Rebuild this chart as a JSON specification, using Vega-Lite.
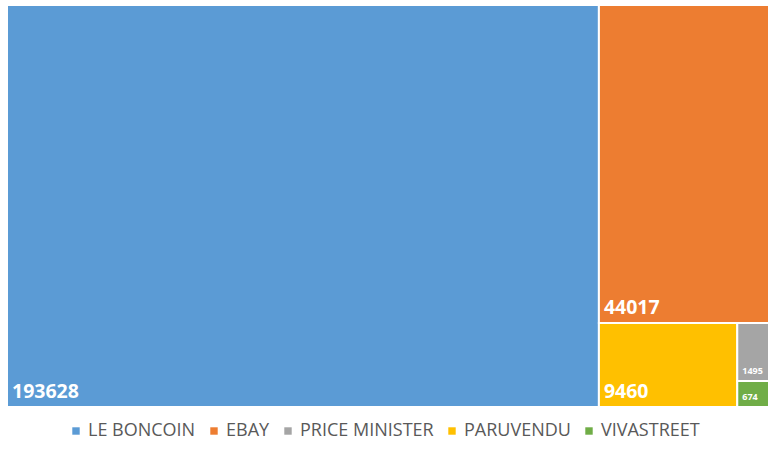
{
  "$schema": "https://vega.github.io/schema/vega-lite/v6.json",
  "width": 762,
  "height": 402,
  "autosize": "none",
  "padding": {"left": 7, "top": 5, "right": 6, "bottom": 48},
  "background": "#ffffff",
  "data": {
    "values": [
      {"site": "LE BONCOIN", "value": 193628, "g1": "a", "g2": "a", "g3": "a"},
      {"site": "EBAY", "value": 44017, "g1": "b", "g2": "b1", "g3": "b1"},
      {"site": "PARUVENDU", "value": 9460, "g1": "b", "g2": "b2", "g3": "b2a"},
      {"site": "PRICE MINISTER", "value": 1495, "g1": "b", "g2": "b2", "g3": "b2b"},
      {"site": "VIVASTREET", "value": 674, "g1": "b", "g2": "b2", "g3": "b2b"}
    ]
  },
  "transform": [
    {"stack": "value", "groupby": [], "sort": [{"field": "value", "order": "descending"}], "offset": "normalize", "as": ["p0", "p1"]},
    {"joinaggregate": [{"op": "min", "field": "p0", "as": "X0"}, {"op": "max", "field": "p1", "as": "X1"}], "groupby": ["g1"]},
    {"stack": "value", "groupby": ["g1"], "sort": [{"field": "value", "order": "descending"}], "offset": "normalize", "as": ["q0", "q1"]},
    {"joinaggregate": [{"op": "min", "field": "q0", "as": "Y0"}, {"op": "max", "field": "q1", "as": "Y1"}], "groupby": ["g2"]},
    {"stack": "value", "groupby": ["g2"], "sort": [{"field": "value", "order": "descending"}], "offset": "normalize", "as": ["r0", "r1"]},
    {"joinaggregate": [{"op": "min", "field": "r0", "as": "R0"}, {"op": "max", "field": "r1", "as": "R1"}], "groupby": ["g3"]},
    {"stack": "value", "groupby": ["g3"], "sort": [{"field": "value", "order": "descending"}], "offset": "normalize", "as": ["t0", "t1"]},
    {"calculate": "datum.X0 + (datum.X1 - datum.X0) * datum.R0", "as": "x0"},
    {"calculate": "datum.X0 + (datum.X1 - datum.X0) * datum.R1", "as": "x1"},
    {"calculate": "datum.Y0 + (datum.Y1 - datum.Y0) * datum.t0", "as": "y0"},
    {"calculate": "datum.Y0 + (datum.Y1 - datum.Y0) * datum.t1", "as": "y1"}
  ],
  "encoding": {
    "x": {"field": "x0", "type": "quantitative", "scale": {"domain": [0, 1], "nice": false, "zero": false}, "axis": null},
    "y": {"field": "y1", "type": "quantitative", "scale": {"domain": [0, 1], "reverse": true, "nice": false, "zero": false}, "axis": null}
  },
  "layer": [
    {
      "mark": {"type": "rect", "stroke": "#ffffff", "strokeWidth": 2},
      "encoding": {
        "y": {"field": "y0", "type": "quantitative"},
        "x2": {"field": "x1"},
        "y2": {"field": "y1"},
        "color": {
          "field": "site",
          "type": "nominal",
          "sort": ["LE BONCOIN", "EBAY", "PRICE MINISTER", "PARUVENDU", "VIVASTREET"],
          "scale": {
            "domain": ["LE BONCOIN", "EBAY", "PRICE MINISTER", "PARUVENDU", "VIVASTREET"],
            "range": ["#5B9BD5", "#ED7D31", "#A5A5A5", "#FFC000", "#70AD47"]
          },
          "legend": {
            "orient": "none",
            "legendX": 60,
            "legendY": 417,
            "direction": "horizontal",
            "title": null,
            "symbolType": "square",
            "symbolSize": 55,
            "symbolStrokeWidth": 0,
            "labelFont": "Open Sans",
            "labelFontSize": 18,
            "labelColor": "#595959",
            "columnPadding": 9,
            "labelOffset": 3
          }
        }
      }
    },
    {
      "mark": {"type": "text", "align": "left", "baseline": "bottom", "dx": 5, "dy": -5, "color": "#ffffff", "fontWeight": "bold", "font": "Open Sans"},
      "encoding": {
        "text": {"field": "value", "type": "quantitative", "format": "d"},
        "size": {"condition": {"test": "datum.value < 5000", "value": 9}, "value": 19.5}
      }
    }
  ],
  "config": {"view": {"stroke": null}}
}
